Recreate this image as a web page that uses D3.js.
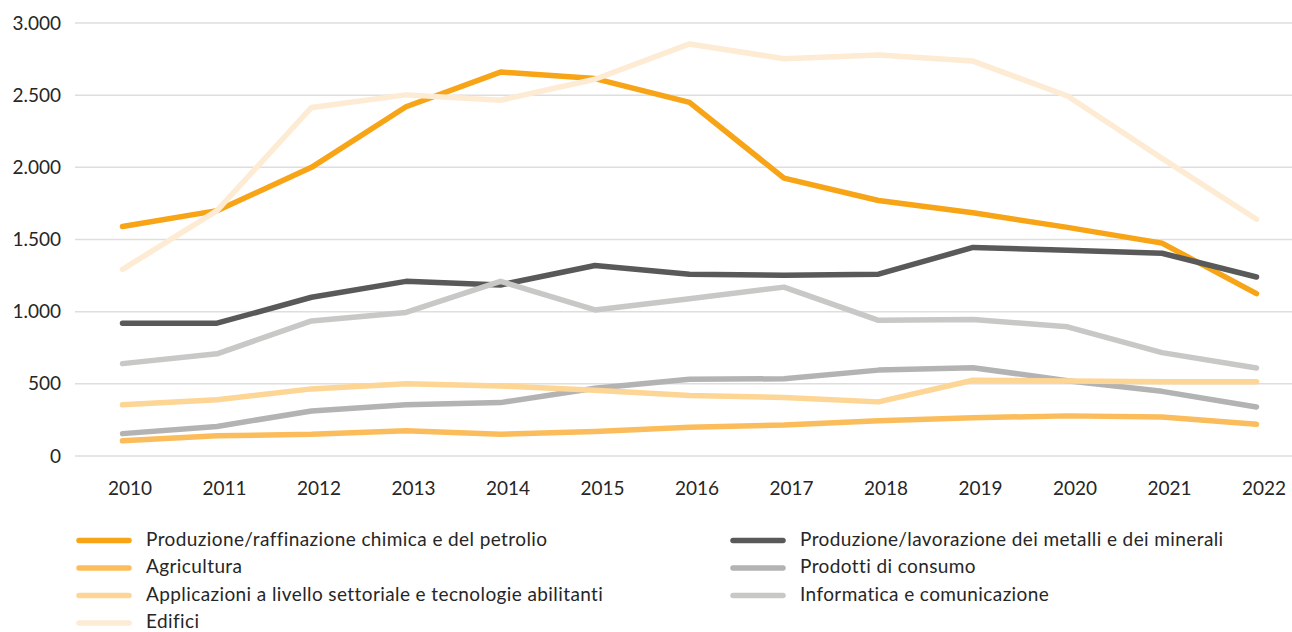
<!DOCTYPE html>
<html>
<head>
<meta charset="utf-8">
<script src="https://cdn.jsdelivr.net/npm/d3@7"></script>
<style>
  html, body { margin: 0; padding: 0; background: #fff; }
  svg { display: block; font-family: Lato, "Open Sans", sans-serif; }
</style>
</head>
<body>
<svg id="chart" width="1292" height="632"></svg>
<script>
// Years on the x axis
const years = [2010, 2011, 2012, 2013, 2014, 2015, 2016, 2017, 2018, 2019, 2020, 2021, 2022];

// Series values, one array per sector
const chimica      = [1590, 1700, 2000, 2420, 2660, 2615, 2450, 1925, 1770, 1685, 1584, 1475, 1125];
const metalli      = [920, 920, 1100, 1210, 1185, 1320, 1260, 1252, 1260, 1445, 1425, 1405, 1240];
const agricoltura  = [105, 140, 150, 175, 150, 170, 200, 215, 245, 265, 278, 270, 220];
const consumo      = [155, 205, 312, 355, 370, 470, 532, 535, 595, 612, 522, 448, 340];
const applicazioni = [355, 390, 465, 500, 485, 455, 420, 405, 375, 525, 520, 515, 515];
const informatica  = [640, 708, 936, 995, 1210, 1012, 1090, 1170, 940, 946, 895, 716, 610];
const edifici      = [1293, 1700, 2415, 2502, 2465, 2610, 2855, 2752, 2778, 2736, 2494, 2062, 1640];

const seriesNames = [
  "Produzione/raffinazione chimica e del petrolio",
  "Produzione/lavorazione dei metalli e dei minerali",
  "Agricultura",
  "Prodotti di consumo",
  "Applicazioni a livello settoriale e tecnologie abilitanti",
  "Informatica e comunicazione",
  "Edifici"
];
const seriesValues = [chimica, metalli, agricoltura, consumo, applicazioni, informatica, edifici];
const seriesColors = ["#F7A416", "#595959", "#FBBD5C", "#B3B3B3", "#FDD594", "#C8C8C7", "#FDEBD4"];

// Y axis ticks
const yTicks = [0, 500, 1000, 1500, 2000, 2500, 3000];
const fmt = v => d3.format(",")(v).replace(/,/g, ".");

const svg = d3.select("#chart");

const x = d3.scalePoint().domain(years).range([122.5, 1256.5]);
const y = d3.scaleLinear().domain([0, 3000]).range([456, 23]);

// Horizontal gridlines
svg.append("g")
  .selectAll("line")
  .data(yTicks)
  .join("line")
  .attr("x1", 75).attr("x2", 1292)
  .attr("y1", d => y(d)).attr("y2", d => y(d))
  .attr("stroke", "#DEDEDE")
  .attr("stroke-width", 1.5);

// Y tick labels
svg.append("g")
  .selectAll("text")
  .data(yTicks)
  .join("text")
  .attr("x", 61)
  .attr("y", d => y(d))
  .attr("dy", "0.35em")
  .attr("text-anchor", "end")
  .attr("font-size", 19)
  .attr("fill", "#262626")
  .text(fmt);

// X tick labels
svg.append("g")
  .selectAll("text")
  .data(years)
  .join("text")
  .attr("x", d => x(d) + 7.5)
  .attr("y", 495)
  .attr("text-anchor", "middle")
  .attr("font-size", 19)
  .attr("fill", "#262626")
  .text(d => d);

// Lines
const line = d3.line()
  .x((d, i) => x(years[i]))
  .y(d => y(d));

svg.append("g")
  .selectAll("path")
  .data(seriesValues)
  .join("path")
  .attr("d", d => line(d))
  .attr("fill", "none")
  .attr("stroke", (d, i) => seriesColors[i])
  .attr("stroke-width", 5.5)
  .attr("stroke-linejoin", "round")
  .attr("stroke-linecap", "round");

// Legend: two columns, row-major order
const legend = svg.append("g")
  .selectAll("g")
  .data(seriesNames)
  .join("g")
  .attr("transform", (d, i) => {
    const col = i % 2, row = Math.floor(i / 2);
    return `translate(${col === 0 ? 79 : 733},${540.5 + row * 27.5})`;
  });

legend.append("line")
  .attr("x1", 0).attr("x2", 50)
  .attr("y1", 0).attr("y2", 0)
  .attr("stroke", (d, i) => seriesColors[i])
  .attr("stroke-width", 5.5)
  .attr("stroke-linecap", "round");

legend.append("text")
  .attr("x", 67)
  .attr("y", 0)
  .attr("dy", "0.27em")
  .attr("font-size", 19)
  .attr("letter-spacing", 0.4)
  .attr("fill", "#262626")
  .text(d => d);
</script>
</body>
</html>
